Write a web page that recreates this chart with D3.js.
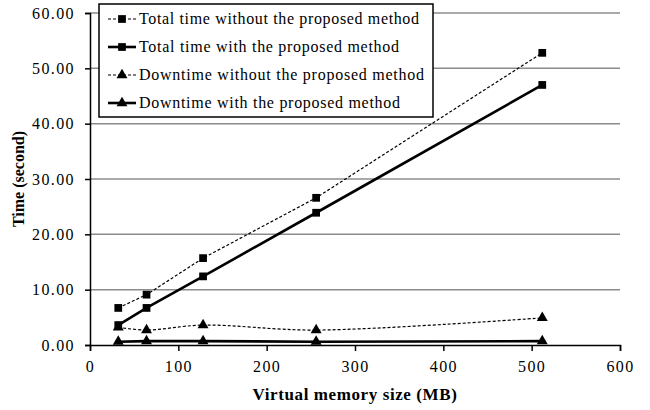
<!DOCTYPE html>
<html>
<head>
<meta charset="utf-8">
<script src="https://cdn.jsdelivr.net/npm/d3@7"></script>
<style>
  body { margin: 0; background: #fff; }
  svg { font-family: "Liberation Serif", "DejaVu Serif", serif; }
</style>
</head>
<body>
<svg id="chart" width="650" height="410"></svg>
<script>
// data
var memSizes = [32, 64, 128, 256, 512];
var totalWithout = [6.7, 9.1, 15.7, 26.6, 52.8];
var totalWith = [3.6, 6.7, 12.4, 23.9, 47.0];
var downWithout = [3.2, 2.7, 3.6, 2.7, 4.9];
var downWith = [0.6, 0.7, 0.7, 0.6, 0.7];
var xTicks = [0, 100, 200, 300, 400, 500, 600];
var yTicks = [0, 10, 20, 30, 40, 50, 60];

var series = [
  { name: "Total time without the proposed method", values: totalWithout, dashed: true, marker: "square", smooth: false, w: 280 },
  { name: "Total time with the proposed method", values: totalWith, dashed: false, marker: "square", smooth: false, w: 260 },
  { name: "Downtime without the proposed method", values: downWithout, dashed: true, marker: "triangle", smooth: true, w: 285 },
  { name: "Downtime with the proposed method", values: downWith, dashed: false, marker: "triangle", smooth: false, w: 261 }
];

var svg = d3.select("#chart");
var plotLeft = 90, plotRight = 620, plotTop = 13, plotBottom = 345;

var x = d3.scaleLinear().domain([0, 600]).range([plotLeft, plotRight]);
var y = d3.scaleLinear().domain([0, 60]).range([plotBottom, plotTop]);

// gridlines
svg.append("g").selectAll("line")
  .data(yTicks.slice(1))
  .enter().append("line")
  .attr("x1", plotLeft).attr("x2", plotRight)
  .attr("y1", function(d) { return y(d); })
  .attr("y2", function(d) { return y(d); })
  .attr("stroke", "#8c8c8c")
  .attr("stroke-width", 1.5);

// axes
var yAxis = svg.append("g")
  .attr("transform", "translate(" + plotLeft + ",0)")
  .call(d3.axisLeft(y).tickValues(yTicks).tickSize(5).tickPadding(10).tickFormat(d3.format(".2f")));
var xAxis = svg.append("g")
  .attr("transform", "translate(0," + plotBottom + ")")
  .call(d3.axisBottom(x).tickValues(xTicks).tickSize(6).tickPadding(10).tickFormat(d3.format("d")));

[xAxis, yAxis].forEach(function(a) {
  a.select(".domain").attr("stroke", "#000").attr("stroke-width", 1.5);
  a.selectAll(".tick line").attr("stroke", "#000").attr("stroke-width", 1.5);
  a.selectAll("text")
    .attr("fill", "#000")
    .attr("font-family", "Liberation Serif, serif")
    .attr("font-size", "16px")
    .attr("letter-spacing", "1.4px");
});

// axis titles
svg.append("text")
  .attr("x", (plotLeft + plotRight) / 2)
  .attr("y", 400)
  .attr("text-anchor", "middle")
  .attr("font-weight", "bold")
  .attr("font-size", "17px")
  .attr("letter-spacing", "0.6px")
  .text("Virtual memory size (MB)");

svg.append("text")
  .attr("transform", "translate(24," + ((plotTop + plotBottom) / 2) + ") rotate(-90)")
  .attr("text-anchor", "middle")
  .attr("font-weight", "bold")
  .attr("font-size", "16px")
  .text("Time (second)");

var squareSym = d3.symbol().type(d3.symbolSquare).size(60);
var triSym = d3.symbol().type(d3.symbolTriangle).size(52);

function drawMarker(g, type, cx, cy) {
  g.append("path")
    .attr("d", type === "square" ? squareSym() : triSym())
    .attr("transform", "translate(" + cx + "," + cy + ")")
    .attr("fill", "#000");
}

// lines and markers
series.forEach(function(s) {
  var line = d3.line()
    .x(function(d, i) { return x(memSizes[i]); })
    .y(function(d) { return y(d); })
    .curve(s.smooth ? d3.curveCatmullRom.alpha(0.5) : d3.curveLinear);

  svg.append("path")
    .datum(s.values)
    .attr("d", line)
    .attr("fill", "none")
    .attr("stroke", "#000")
    .attr("stroke-width", s.dashed ? 1.2 : 2.6)
    .attr("stroke-dasharray", s.dashed ? "3,2" : null);

  var g = svg.append("g");
  s.values.forEach(function(v, i) {
    drawMarker(g, s.marker, x(memSizes[i]), y(v));
  });
});

// legend
var legend = svg.append("g");
legend.append("rect")
  .attr("x", 99).attr("y", 4)
  .attr("width", 334).attr("height", 113)
  .attr("fill", "#fff")
  .attr("stroke", "#000")
  .attr("stroke-width", 1.5);

series.forEach(function(s, i) {
  var ly = 19 + i * 28;
  legend.append("line")
    .attr("x1", 108).attr("x2", 136)
    .attr("y1", ly).attr("y2", ly)
    .attr("stroke", "#000")
    .attr("stroke-width", s.dashed ? 1.2 : 2.6)
    .attr("stroke-dasharray", s.dashed ? "3,2" : null);
  drawMarker(legend, s.marker, 122, ly);
  legend.append("text")
    .attr("x", 139)
    .attr("y", ly + 5)
    .attr("font-size", "16px")
    .attr("textLength", s.w)
    .attr("lengthAdjust", "spacing")
    .text(s.name);
});
</script>
</body>
</html>
